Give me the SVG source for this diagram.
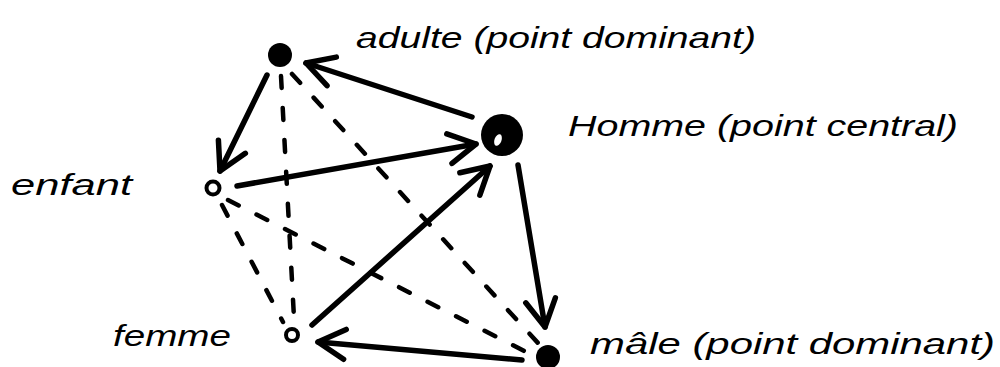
<svg xmlns="http://www.w3.org/2000/svg" width="1000" height="367" viewBox="0 0 1000 367">
  <style>
    .solid { fill: none; stroke: #000; stroke-width: 5.5; stroke-linecap: round; marker-end: url(#arrow); }
    .dash { fill: none; stroke: #000; stroke-width: 4.5; stroke-linecap: round; stroke-dasharray: 12 20; }
    .lbl { font-family: "Liberation Sans", "DejaVu Sans", sans-serif; font-style: italic; font-size: 30px; fill: #000; }
    .open { fill: #fff; stroke: #000; stroke-width: 4; }
    .full { fill: #000; }
  </style>
  <defs>
    <marker id="arrow" viewBox="-34 -20 38 40" markerWidth="38" markerHeight="40" refX="0" refY="0" markerUnits="userSpaceOnUse" orient="auto">
      <path d="M -27 -15 L 0 0 L -27 15" fill="none" stroke="#000" stroke-width="5.5" stroke-linecap="round" stroke-linejoin="round"/>
    </marker>
  </defs>
  <rect width="1000" height="367" fill="#fff"/>
  <g id="connectors">
    <line class="dash" x1="281" y1="76" x2="294" y2="318"/>
    <line class="dash" x1="292" y1="74" x2="538" y2="343"/>
    <line class="dash" x1="222" y1="205" x2="283" y2="322"/>
    <line class="dash" x1="228" y1="200" x2="532" y2="355"/>
    <line class="solid" x1="472" y1="117" x2="306" y2="63"/>
    <line class="solid" x1="267" y1="75" x2="220" y2="171"/>
    <line class="solid" x1="237" y1="186" x2="476" y2="144"/>
    <line class="solid" x1="312" y1="325" x2="490" y2="166"/>
    <line class="solid" x1="518" y1="165" x2="545" y2="327"/>
    <line class="solid" x1="522" y1="360" x2="318" y2="342"/>
  </g>
  <g id="adulte">
    <circle class="full" cx="280" cy="55" r="12"/>
    <text class="lbl" x="356" y="48" textLength="400" lengthAdjust="spacingAndGlyphs">adulte (point dominant)</text>
  </g>
  <g id="homme">
    <circle class="full" cx="502" cy="135" r="21"/>
    <ellipse cx="498" cy="140" rx="3.5" ry="6" fill="#fff" transform="rotate(20 498 140)"/>
    <text class="lbl" x="568" y="136" textLength="390" lengthAdjust="spacingAndGlyphs">Homme (point central)</text>
  </g>
  <g id="enfant">
    <circle class="open" cx="213" cy="188" r="6.5"/>
    <text class="lbl" x="11" y="195" textLength="121" lengthAdjust="spacingAndGlyphs">enfant</text>
  </g>
  <g id="femme">
    <circle class="open" cx="292" cy="335" r="6"/>
    <text class="lbl" x="113" y="346" textLength="118" lengthAdjust="spacingAndGlyphs">femme</text>
  </g>
  <g id="male">
    <circle class="full" cx="548" cy="357" r="12"/>
    <text class="lbl" x="590" y="354" textLength="405" lengthAdjust="spacingAndGlyphs">mâle (point dominant)</text>
  </g>
</svg>
